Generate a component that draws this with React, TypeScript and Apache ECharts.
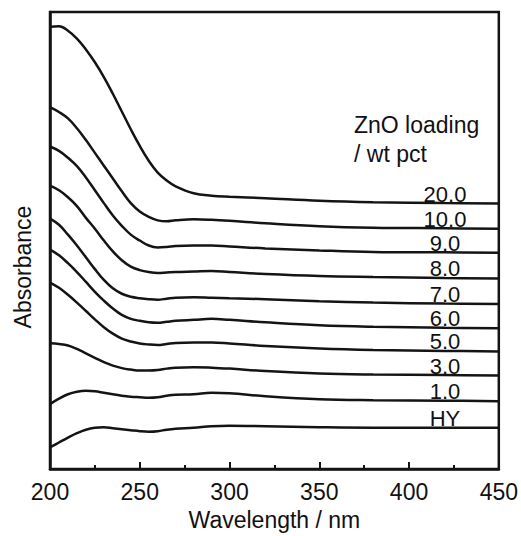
import React, { useEffect, useRef } from "react";
import * as echarts from "echarts";

// Wavelength grid (nm)
const wavelengths = [200, 205, 210, 215, 220, 225, 230, 235, 240, 245, 250, 255, 260, 265, 270, 280, 290, 300, 320, 350, 380, 420, 450];

// Absorbance (arbitrary units, stacked offsets as in the figure)
const s20 = [449, 449.5, 445, 437, 426, 413, 398, 381, 363, 345, 328, 313, 301, 293, 287, 280, 277.5, 276.5, 275, 272.5, 271, 270, 269.5];
const s10 = [367.5, 362.5, 356, 346, 334, 321, 308, 295, 282, 270, 261.5, 256, 252.5, 251.5, 252.5, 253.5, 253, 252, 249.5, 246.5, 245, 244.5, 244];
const s9 = [327.5, 323, 316, 307.5, 296, 283, 270, 257.5, 247, 238, 232, 227, 225, 225.5, 226.5, 227, 227, 226, 224, 222, 220.5, 220, 219.5];
const s8 = [287.7, 283, 276, 267, 255, 244, 232, 221, 212, 205.5, 202, 200, 199, 199.5, 200, 200.5, 201, 200, 198, 196, 195, 194, 193.5];
const s7 = [254.3, 248, 238, 227, 215, 203, 192, 183.5, 178, 175, 173.5, 172.5, 172, 173, 174, 174.5, 174, 173.5, 172.5, 170.5, 169, 168, 167.5];
const s6 = [222.7, 217, 209, 200, 190, 180, 171, 163, 156.5, 152.5, 150.5, 149, 148.5, 149.5, 150.5, 151.5, 152.5, 151.5, 149, 146, 144.5, 143.5, 143];
const s5 = [189.3, 184, 177, 169, 160.5, 152, 144, 137.5, 132.5, 129.5, 127.5, 126.5, 126, 127, 128, 128.5, 128.5, 127.5, 125, 122.5, 121, 120, 119.5];
const s3 = [127.7, 127, 125.5, 122, 117.5, 113, 108.5, 105, 102.5, 101, 100, 100, 100.5, 102, 103, 103.5, 103, 102, 99.5, 97, 96, 95.5, 95];
const s1 = [66, 71.5, 76, 78.5, 79.5, 79, 77.5, 76, 74.5, 73.5, 73, 72.5, 73, 74.5, 75.5, 76, 77.5, 77, 74, 71, 70, 69.5, 69];
const sHY = [22, 27, 32, 36.5, 40, 42, 42.5, 41.5, 40.5, 39.5, 38.5, 38, 38.5, 40, 41, 42, 43.5, 44, 43.5, 42.5, 42, 42, 42];

const seriesNames = ["20.0", "10.0", "9.0", "8.0", "7.0", "6.0", "5.0", "3.0", "1.0", "HY"];
const seriesValues = [s20, s10, s9, s8, s7, s6, s5, s3, s1, sHY];
const labelWavelength = 420;

const FONT = "'Liberation Sans', Arial, sans-serif";
const FS = 23;

export default function App() {
  const ref = useRef<HTMLDivElement>(null);
  useEffect(() => {
    if (!ref.current) return;
    const chart = echarts.init(ref.current, undefined, { renderer: "svg" });
    const idx = wavelengths.indexOf(labelWavelength);
    const series = seriesNames.map((name, i) => ({
      name,
      type: "line",
      smooth: 0.4,
      symbol: "none",
      lineStyle: { color: "#141414", width: 2.5 },
      data: wavelengths.map((w, j) => [w, seriesValues[i][j]]),
      markPoint: {
        symbol: "circle",
        symbolSize: 1,
        itemStyle: { color: "rgba(0,0,0,0)" },
        label: {
          show: true,
          position: "top",
          distance: 0,
          formatter: name,
          fontSize: 22,
          lineHeight: 17,
          fontFamily: FONT,
          color: "#111",
        },
        data: [{ coord: [labelWavelength, seriesValues[i][idx]] }],
      },
    }));
    chart.setOption({
      animation: false,
      backgroundColor: "#fff",
      title: {
        text: "ZnO loading\n/ wt pct",
        left: 354,
        top: 110,
        padding: 0,
        textStyle: {
          fontSize: FS,
          fontWeight: "normal",
          fontFamily: FONT,
          color: "#111",
          lineHeight: 29,
        },
      },
      grid: {
        left: 50,
        right: 22,
        top: 12,
        bottom: 60,
        show: true,
        borderColor: "#141414",
        borderWidth: 2.5,
        backgroundColor: "transparent",
      },
      xAxis: {
        type: "value",
        min: 200,
        max: 450,
        interval: 50,
        name: "Wavelength / nm",
        nameLocation: "middle",
        nameGap: 24,
        nameTextStyle: { fontSize: FS, fontFamily: FONT, color: "#111" },
        axisLine: { show: true, lineStyle: { color: "#141414", width: 2.5 } },
        axisTick: { show: true, inside: true, length: 7, lineStyle: { color: "#141414", width: 2 } },
        minorTick: { show: true, splitNumber: 2, length: 4, lineStyle: { color: "#141414", width: 2 } },
        axisLabel: { fontSize: FS, fontFamily: FONT, color: "#111", margin: 11 },
        splitLine: { show: false },
      },
      yAxis: {
        type: "value",
        min: 0,
        max: 464,
        axisLine: { show: true, lineStyle: { color: "#141414", width: 2.5 } },
        axisTick: { show: false },
        axisLabel: { show: false },
        splitLine: { show: false },
      },
      graphic: [
        {
          type: "text",
          x: 23,
          y: 267,
          rotation: Math.PI / 2,
          style: {
            text: "Absorbance",
            fontSize: FS,
            fontFamily: FONT,
            fill: "#111",
            textAlign: "center",
            textVerticalAlign: "middle",
          },
        },
      ],
      series,
    });
    return () => chart.dispose();
  }, []);
  return (
    <div
      ref={ref}
      style={{ position: "absolute", left: 0, top: 0, width: 521, height: 536 }}
    />
  );
}
